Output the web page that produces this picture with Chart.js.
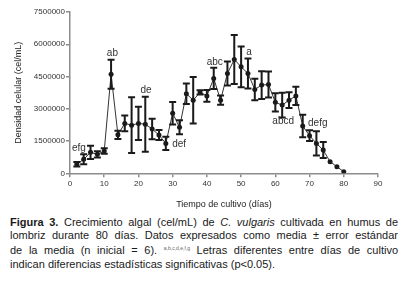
<!DOCTYPE html>
<html>
<head>
<meta charset="utf-8">
<script src="https://cdn.jsdelivr.net/npm/chart.js@4"></script>
<style>
	body { margin: 0; background: #fff; }
	#wrap { position: relative; width: 402px; height: 287px; }
	#caption { position: absolute; left: 10px; top: 216px; width: 388px; font: 11px 'Liberation Sans', Arial, sans-serif; color: #1a1a1a; line-height: 13.2px; }
	#caption .j { text-align: justify; text-align-last: justify; white-space: nowrap; }
	#caption sup { font-size: 5px; color: #666; vertical-align: 4px; }
</style>
</head>
<body>
<div id="wrap">
	<canvas id="chartjs-canvas" width="402" height="215"></canvas>
	<div id="caption">
		<div class="j"><b>Figura 3.</b> Crecimiento algal (cel/mL) de <i>C. vulgaris</i> cultivada en humus de</div>
		<div class="j">lombriz durante 80 días. Datos expresados como media ± error estándar</div>
		<div class="j">de la media (n inicial = 6). <sup>a,b,c,d,e,f,g</sup> Letras diferentes entre días de cultivo</div>
		<div>indican diferencias estadísticas significativas (p&lt;0.05).</div>
	</div>
</div>
<script>
const days = [2, 4, 6, 8, 10, 12, 14, 16, 18, 20, 22, 24, 26, 28, 30, 32, 34, 36, 38, 40,
	42, 44, 46, 48, 50, 52, 54, 56, 58, 60, 62, 64, 66, 68, 70, 72, 74, 76, 78, 80];
const means = [420000, 650000, 975000, 880000, 1035000, 4610000, 1790000, 2320000, 2240000, 2320000,
	2280000, 2060000, 1780000, 1390000, 2790000, 2140000, 3700000, 3400000, 3760000, 3600000,
	4410000, 3400000, 4640000, 5290000, 4950000, 4640000, 3900000, 4100000, 4130000, 3300000,
	3170000, 3400000, 3600000, 2200000, 1750000, 1390000, 1080000, 540000, 307000, 74000];
const errors = [100000, 230000, 310000, 140000, 130000, 675000, 190000, 370000, 1300000, 775000,
	1280000, 480000, 230000, 310000, 525000, 330000, 480000, 1080000, 100000, 270000,
	495000, 217000, 557000, 1140000, 945000, 700000, 500000, 650000, 600000, 425000,
	580000, 365000, 425000, 525000, 250000, 565000, 370000, 0, 0, 0];
const yTicks = [0, 1500000, 3000000, 4500000, 6000000, 7500000];
const xTicks = [0, 10, 20, 30, 40, 50, 60, 70, 80, 90];
// significance letters, placed at (day, value)
const letterTexts = ['efg', 'ab', 'de', 'def', 'abc', 'a', 'abcd', 'defg'];
const letterDays = [2.6, 12.4, 22.2, 31.9, 42.3, 52.3, 62.3, 72.4];
const letterValues = [1160000, 5570000, 3840000, 1350000, 5150000, 5620000, 2400000, 2320000];

const axisGrey = '#8c8c8c';
const tickFont = { family: "'Liberation Sans', Arial, sans-serif", size: 8 };
const titleFont = { family: "'Liberation Sans', Arial, sans-serif", size: 9 };

const errorBars = {
	id: 'errorBars',
	afterDatasetsDraw: chart => {
		const { ctx, scales: { x, y } } = chart;
		ctx.save();
		ctx.strokeStyle = '#1a1a1a';
		ctx.lineWidth = 2;
		days.forEach((d, i) => {
			if (!errors[i]) return;
			const px = x.getPixelForValue(d);
			const top = y.getPixelForValue(means[i] + errors[i]);
			const bot = y.getPixelForValue(means[i] - errors[i]);
			ctx.beginPath();
			ctx.moveTo(px, top); ctx.lineTo(px, bot);
			ctx.moveTo(px - 3.5, top); ctx.lineTo(px + 3.5, top);
			ctx.moveTo(px - 3.5, bot); ctx.lineTo(px + 3.5, bot);
			ctx.stroke();
		});
		ctx.fillStyle = '#333';
		ctx.font = "10px 'Liberation Sans', Arial, sans-serif";
		ctx.textAlign = 'center';
		ctx.textBaseline = 'middle';
		letterTexts.forEach((t, i) => {
			ctx.fillText(t, x.getPixelForValue(letterDays[i]), y.getPixelForValue(letterValues[i]));
		});
		ctx.restore();
	}
};

const config = {
	type: 'line',
	data: {
		datasets: [{
			data: days.map((d, i) => ({ x: d, y: means[i] })),
			borderColor: '#333',
			borderWidth: 1,
			pointRadius: 2.5,
			pointBackgroundColor: '#1a1a1a',
			pointBorderWidth: 0,
			tension: 0
		}]
	},
	options: {
		responsive: false,
		animation: false,
		layout: { padding: { top: 12, right: 24, left: 0, bottom: 0 } },
		plugins: { legend: { display: false }, tooltip: { enabled: false } },
		scales: {
			x: {
				type: 'linear',
				min: 0,
				max: 90,
				afterFit: s => { s.height = 41.7; },
				afterBuildTicks: s => { s.ticks = xTicks.map(v => ({ value: v })); },
				border: { display: true, color: axisGrey, width: 1.5 },
				grid: { drawOnChartArea: false, drawTicks: true, tickLength: 4, color: axisGrey, lineWidth: 1.5 },
				ticks: { color: '#333', font: tickFont, padding: 2, maxRotation: 0 },
				title: { display: true, text: 'Tiempo de cultivo (días)', color: '#222', font: titleFont, padding: { top: 0, bottom: 4.6 } }
			},
			y: {
				min: 0,
				max: 7500000,
				afterFit: s => { s.width = 70; },
				afterBuildTicks: s => { s.ticks = yTicks.map(v => ({ value: v })); },
				border: { display: true, color: axisGrey, width: 1.5 },
				grid: { drawOnChartArea: false, drawTicks: true, tickLength: 4, color: axisGrey, lineWidth: 1.5 },
				ticks: { color: '#333', font: tickFont, padding: 1, callback: v => String(v) },
				title: { display: true, text: 'Densidad celular (cel/mL)', color: '#222', font: titleFont, padding: { top: 13.6, bottom: 0 } }
			}
		}
	},
	plugins: [errorBars]
};

new Chart(document.getElementById('chartjs-canvas'), config);
</script>
</body>
</html>
